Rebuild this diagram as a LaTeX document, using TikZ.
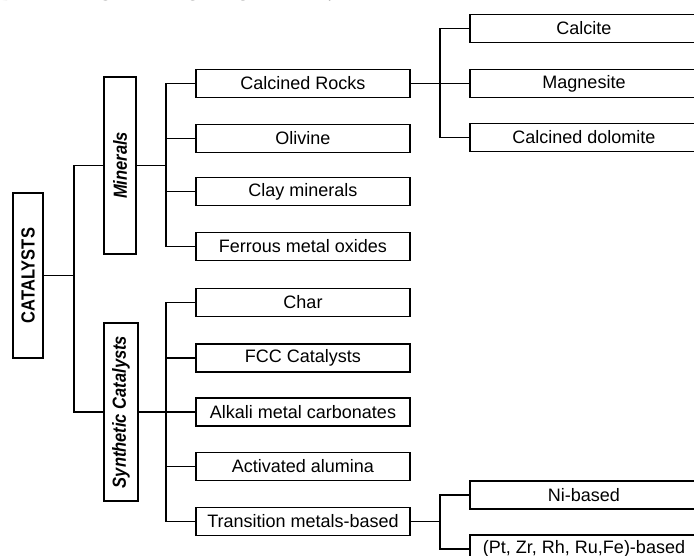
\documentclass[tikz,border=0pt]{standalone}
\usepackage{fontspec}
\usepackage{graphicx}
\setmainfont{Liberation Sans}
\newfontfamily\headfont{Liberation Serif}
\usetikzlibrary{positioning}
\newcommand\vtext[1]{\scalebox{1.15}[1]{\rotatebox{90}{#1}}}

\begin{document}
\begin{tikzpicture}[x=1pt,y=-1pt,line width=1.2pt,
  item/.style={draw,line width=1.3pt,minimum width=214pt,minimum height=28pt,inner sep=0pt,font=\fontsize{18}{20}\selectfont},
  leaf/.style={item,minimum width=228pt},
  group/.style={draw,line width=1.3pt,inner sep=0pt,font=\bfseries\itshape\fontsize{16.5}{18}\selectfont}]
\fill[white] (0,0) rectangle (694,556);
\useasboundingbox (0,0) rectangle (694,556);
% heading, cut by the page edge
\node[anchor=base west,inner sep=0pt,font=\headfont\bfseries\fontsize{21}{23}\selectfont] (head) at (-1,1) {DATA INFORMATION TO PART 1.1};
% root and the two groups
\node[group,font=\bfseries\fontsize{16.5}{18}\selectfont,minimum width=30pt,minimum height=165pt] (cat) at (28,275.5) {\vtext{CATALYSTS}};
\node[group,minimum width=32pt,minimum height=177pt] (min) at (120,165.5) {\vtext{Minerals}};
\node[group,minimum width=34pt,minimum height=178pt] (syn) at (121,412) {\vtext{Synthetic Catalysts}};
\coordinate (t) at (74,275.5);
\draw (cat.east) -- (t);
\draw (min.west) -| (t) |- (syn.west);
% minerals
\node[item] (rocks) at (303,83.5) {Calcined Rocks};
\node[item] (oli) at (303,138.5) {Olivine};
\node[item] (clay) at (303,191.5) {Clay minerals};
\node[item] (ferr) at (303,246.5) {Ferrous metal oxides};
\coordinate (m) at (166,165.5);
\draw (min.east) -- (m);
\draw (rocks.west) -| (m) |- (ferr.west);
\draw (oli.west) -- (oli.west -| m);
\draw (clay.west) -- (clay.west -| m);
% calcined rocks
\node[leaf] (calc) at (584,28.5) {Calcite};
\node[leaf] (magn) at (584,83.5) {Magnesite};
\node[leaf] (dolo) at (584,137.5) {Calcined dolomite};
\coordinate (r) at (440,83.5);
\draw (rocks.east) -- (magn.west);
\draw (calc.west) -| (r) |- (dolo.west);
% synthetic catalysts
\node[item] (char) at (303,302.5) {Char};
\node[item] (fcc) at (303,358) {FCC Catalysts};
\node[item] (alk) at (303,412) {Alkali metal carbonates};
\node[item] (alu) at (303,466.5) {Activated alumina};
\node[item] (tran) at (303,521.5) {Transition metals-based};
\coordinate (s) at (166,412);
\draw (syn.east) -- (alk.west);
\draw (char.west) -| (s) |- (tran.west);
\draw (fcc.west) -- (fcc.west -| s);
\draw (alu.west) -- (alu.west -| s);
% transition metals
\node[leaf] (ni) at (584,495) {Ni-based};
\node[leaf] (pt) at (584,549) {(Pt, Zr, Rh, Ru,Fe)-based};
\coordinate (tm) at (440,521.5);
\draw (tran.east) -- (tm);
\draw (ni.west) -| (tm) |- (pt.west);
\end{tikzpicture}
\end{document}
